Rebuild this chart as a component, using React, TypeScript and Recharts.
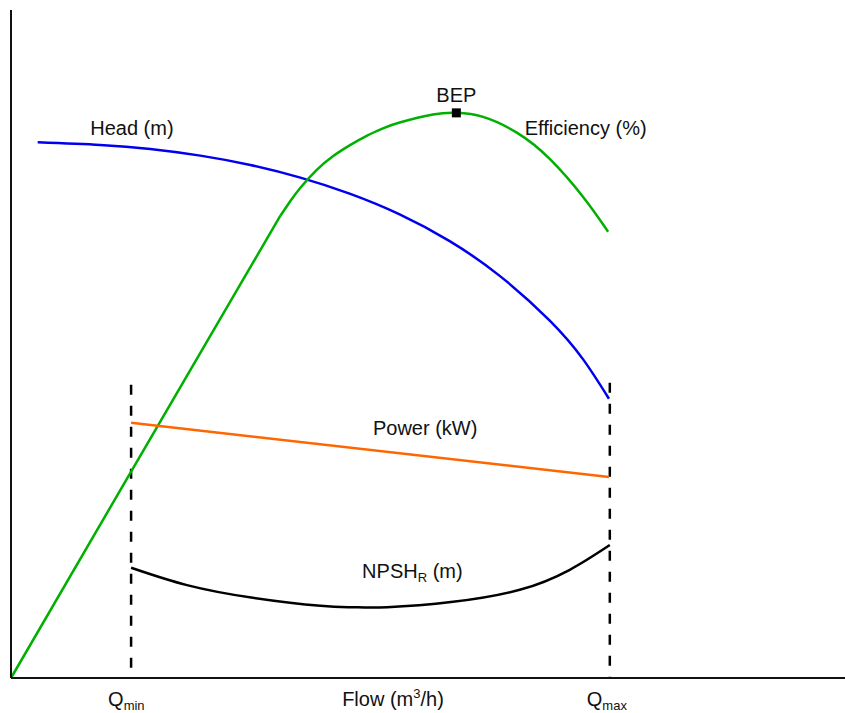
import React from "react";
import {
  ComposedChart,
  Line,
  Scatter,
  XAxis,
  YAxis,
  ZAxis,
  ReferenceDot,
} from "recharts";

// flow axis runs 0..100, values 0..100 (arbitrary units, no ticks shown)
const flowHead = [3.2, 10.7, 16.7, 22.7, 28.7, 34.7, 40.6, 46.6, 52.6, 58.6, 64.6, 68.6, 71.7];
const head = [80.2, 79.8, 79.2, 78.2, 76.8, 74.9, 72.5, 69.4, 65.4, 60.2, 53.5, 47.7, 41.8];

// efficiency rises straight up to the knee, then bends over the BEP
const flowEff = [0, 14.4, 28.0, 32.3, 33.5, 34.7, 36.6, 38.6, 40.7, 42.7, 44.6, 46.6, 50.6, 53.4, 56.6, 60.7, 64.6, 68.6, 71.6];
const efficiency = [0, 30.9, 60.0, 69.2, 71.4, 73.4, 76.0, 78.1, 79.8, 81.2, 82.28, 83.15, 84.35, 84.6, 84.0, 81.6, 77.7, 72.0, 66.8];
const kneeIndex = 3;

const flowPower = [14.4, 71.7];
const power = [38.2, 30.1];

const flowNpsh = [14.4, 21.1, 29.0, 37.1, 41.0, 45.1, 53.0, 61.0, 67.0, 71.8];
const npsh = [16.5, 13.9, 12.0, 10.8, 10.6, 10.6, 11.4, 13.2, 16.2, 19.9];

const qMin = 14.4;
const qMax = 71.8;
const qMinTop = 43.9;
const qMaxTop = 44.2;

const bepFlow = 53.4;
const bepEff = 84.6;

const flowLabelAt = 45.8;
const xTicks = [qMin, flowLabelAt, qMax];

const toRows = (xs: number[], ys: number[]) => xs.map((q, i) => ({ q, v: ys[i] }));

const FONT = "'Liberation Sans', Arial, Helvetica, sans-serif";

function BottomTick(props: any) {
  const { x, y, payload } = props;
  const v = payload.value;
  const base = y + 20;
  if (v === flowLabelAt) {
    return (
      <text x={x} y={base} textAnchor="middle" fontSize={20} fontFamily={FONT} fill="#111">
        <tspan>Flow (m</tspan>
        <tspan fontSize={13} dy={-8}>3</tspan>
        <tspan dy={8}>/h)</tspan>
      </text>
    );
  }
  const sub = v === qMin ? "min" : "max";
  return (
    <text x={x - 23} y={base} textAnchor="start" fontSize={20} fontFamily={FONT} fill="#111">
      <tspan>Q</tspan>
      <tspan fontSize={13} dy={4}>{sub}</tspan>
    </text>
  );
}

function Annot(props: any) {
  const { viewBox, text, sub, after, anchor } = props;
  return (
    <text
      x={viewBox.x}
      y={viewBox.y}
      textAnchor={anchor || "start"}
      fontSize={20}
      fontFamily={FONT}
      fill="#111"
    >
      <tspan>{text}</tspan>
      {sub && (
        <tspan fontSize={13} dy={4}>
          {sub}
        </tspan>
      )}
      {after && <tspan dy={sub ? -4 : 0}>{after}</tspan>}
    </text>
  );
}

export default function App() {
  return (
    <div style={{ position: "absolute", left: 0, top: 0 }}>
      <ComposedChart
        width={845}
        height={713}
        margin={{ top: 10, right: 0, left: 10, bottom: 0 }}
      >
        <XAxis
          type="number"
          dataKey="q"
          domain={[0, 100]}
          ticks={xTicks}
          tickLine={false}
          height={35}
          axisLine={{ stroke: "#111", strokeWidth: 2 }}
          tick={<BottomTick />}
          interval={0}
        />
        <YAxis
          type="number"
          dataKey="v"
          domain={[0, 100]}
          width={1}
          tick={false}
          tickLine={false}
          axisLine={{ stroke: "#111", strokeWidth: 2 }}
        />
        <ZAxis range={[81, 81]} />

        <Line
          data={toRows([qMin, qMin], [qMinTop, 0])}
          dataKey="v"
          type="linear"
          stroke="#000"
          strokeWidth={2.5}
          strokeDasharray="10 11"
          dot={false}
          isAnimationActive={false}
        />
        <Line
          data={toRows([qMax, qMax], [qMaxTop, 0])}
          dataKey="v"
          type="linear"
          stroke="#000"
          strokeWidth={2.5}
          strokeDasharray="10 11"
          dot={false}
          isAnimationActive={false}
        />
        <Line
          data={toRows(flowHead, head)}
          dataKey="v"
          type="natural"
          stroke="#0000ee"
          strokeWidth={2.5}
          dot={false}
          isAnimationActive={false}
        />
        <Line
          data={toRows(flowEff.slice(0, kneeIndex + 1), efficiency.slice(0, kneeIndex + 1))}
          dataKey="v"
          type="linear"
          stroke="#00b000"
          strokeWidth={2.5}
          dot={false}
          isAnimationActive={false}
        />
        <Line
          data={toRows(flowEff.slice(kneeIndex), efficiency.slice(kneeIndex))}
          dataKey="v"
          type="natural"
          stroke="#00b000"
          strokeWidth={2.5}
          dot={false}
          isAnimationActive={false}
        />
        <Line
          data={toRows(flowPower, power)}
          dataKey="v"
          type="linear"
          stroke="#ff6600"
          strokeWidth={2.5}
          dot={false}
          isAnimationActive={false}
        />
        <Line
          data={toRows(flowNpsh, npsh)}
          dataKey="v"
          type="natural"
          stroke="#000"
          strokeWidth={2.5}
          dot={false}
          isAnimationActive={false}
        />
        <Scatter
          data={[{ q: bepFlow, v: bepEff }]}
          dataKey="v"
          shape="square"
          fill="#000"
          isAnimationActive={false}
        />

        <ReferenceDot x={bepFlow} y={86.2} r={0} label={<Annot text="BEP" anchor="middle" />} />
        <ReferenceDot x={9.5} y={81.3} r={0} label={<Annot text="Head (m)" />} />
        <ReferenceDot x={61.6} y={81.3} r={0} label={<Annot text="Efficiency (%)" />} />
        <ReferenceDot x={43.4} y={36.4} r={0} label={<Annot text="Power (kW)" />} />
        <ReferenceDot x={42.1} y={15.0} r={0} label={<Annot text="NPSH" sub="R" after=" (m)" />} />
      </ComposedChart>
    </div>
  );
}
